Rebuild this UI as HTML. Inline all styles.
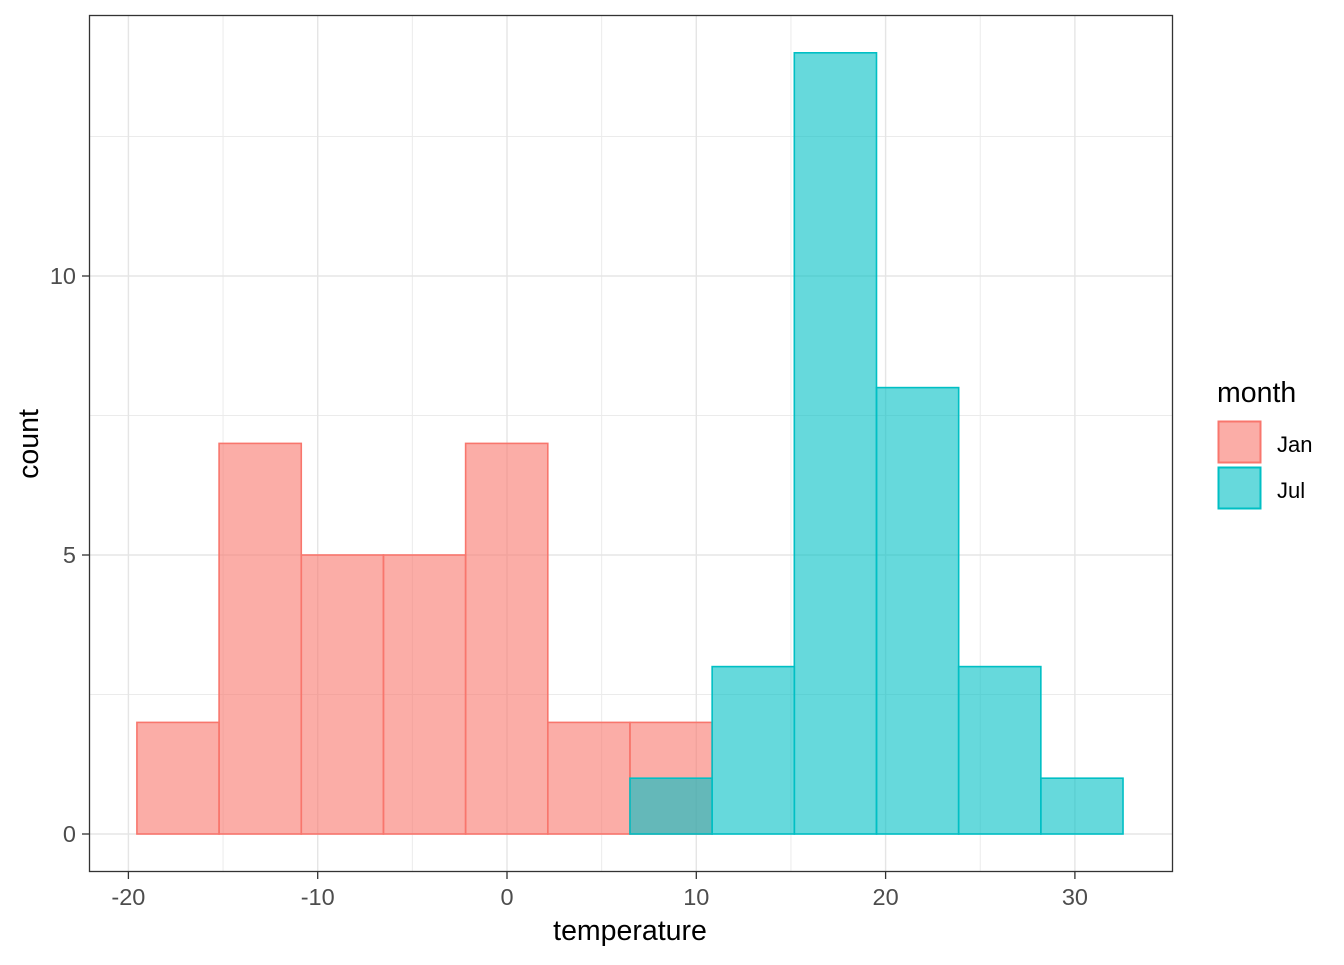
<!DOCTYPE html>
<html><head><meta charset="utf-8"><style>
body{margin:0;background:#fff}
text{font-family:"Liberation Sans",Arial,sans-serif}
</style></head><body>
<svg id="chart" width="1344" height="960" xmlns="http://www.w3.org/2000/svg">
<rect x="0" y="0" width="1344" height="960" fill="#fff"/>
<g id="grid"></g>
<g id="bars"></g>
<rect x="89.5" y="15.5" width="1083" height="856" fill="none" stroke="#333" stroke-width="1.3"/>
<g id="axes"></g>
<text x="630" y="940" font-size="28.5" text-anchor="middle" fill="#000">temperature</text>
<text transform="translate(38,444) rotate(-90)" font-size="28.5" text-anchor="middle" fill="#000">count</text>
<g>
<text x="1217" y="402" font-size="28.5" fill="#000">month</text>
<g>
<rect x="1218.5" y="421.5" width="42" height="41" fill="rgba(248,118,109,0.6)" stroke="#F8766D" stroke-width="2"/>
<text x="1277" y="452" font-size="22" fill="#000">Jan</text></g>
<g>
<rect x="1218.5" y="467.5" width="42" height="41" fill="rgba(0,191,196,0.6)" stroke="#00BFC4" stroke-width="2"/>
<text x="1277" y="498" font-size="22" fill="#000">Jul</text></g>
</g>
</svg>
<script>
const binStart = -19.55;
const binWidth = 4.341;
const janCounts = [2,7,5,5,7,2,2,0,0,0,0,0];
const julCounts = [0,0,0,0,0,0,1,3,14,8,3,1];
const xTicks = [-20,-10,0,10,20,30];
const xMinor = [-15,-5,5,15,25];
const yTicks = [0,5,10];
const yMinor = [2.5,7.5,12.5];

const NS="http://www.w3.org/2000/svg";
function X(v){return 507 + v*18.93;}
function Y(v){return 834 - v*55.8;}
function mk(tag,attrs,parent){const e=document.createElementNS(NS,tag);for(const k in attrs)e.setAttribute(k,attrs[k]);parent.appendChild(e);return e;}
const grid=document.getElementById('grid'), bars=document.getElementById('bars'), axes=document.getElementById('axes');
xMinor.forEach(v=>{const l=mk('line',{x1:X(v),x2:X(v),y1:15,y2:872,stroke:'#EBEBEB','stroke-width':1},grid);

});
yMinor.forEach(v=>{const l=mk('line',{x1:89,x2:1173,y1:Y(v),y2:Y(v),stroke:'#EBEBEB','stroke-width':1},grid);

});
xTicks.forEach(v=>{const l=mk('line',{x1:X(v),x2:X(v),y1:15,y2:872,stroke:'#E5E5E5','stroke-width':1.4},grid);


const t=mk('line',{x1:X(v),x2:X(v),y1:872,y2:879,stroke:'#333','stroke-width':1.3},axes);


const tx=mk('text',{x:X(v),y:905,'font-size':23.5,'text-anchor':'middle',fill:'#4D4D4D'},axes);tx.textContent=String(v);

});
yTicks.forEach(v=>{const l=mk('line',{x1:89,x2:1173,y1:Y(v),y2:Y(v),stroke:'#E5E5E5','stroke-width':1.4},grid);


const t=mk('line',{x1:82,x2:89,y1:Y(v),y2:Y(v),stroke:'#333','stroke-width':1.3},axes);


const tx=mk('text',{x:76,y:Y(v)+8,'font-size':23.5,'text-anchor':'end',fill:'#4D4D4D'},axes);tx.textContent=String(v);

});
function drawSeries(counts,fill,stroke,name){
counts.forEach((c,i)=>{const x0=X(binStart+i*binWidth),x1=X(binStart+(i+1)*binWidth);
const r=mk('rect',{x:x0,y:Y(c),width:x1-x0,height:Y(0)-Y(c),fill:fill,stroke:stroke,'stroke-width':1.6},bars);

});}
drawSeries(janCounts,'rgba(248,118,109,0.6)','#F8766D','jan');
drawSeries(julCounts,'rgba(0,191,196,0.6)','#00BFC4','jul');
</script>
</body></html>
